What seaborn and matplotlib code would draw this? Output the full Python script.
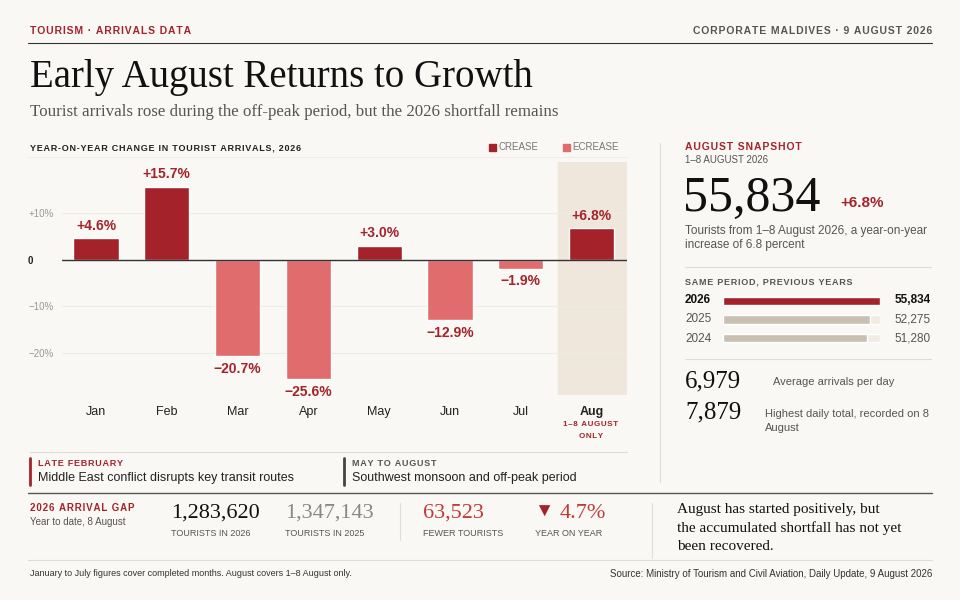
import matplotlib.pyplot as plt
import seaborn as sns
import pandas as pd
from matplotlib.patches import Rectangle

months = ["Jan", "Feb", "Mar", "Apr", "May", "Jun", "Jul", "Aug"]
yoy = [4.6, 15.7, -20.7, -25.6, 3.0, -12.9, -1.9, 6.8]
years = ["2026", "2025", "2024"]
arrivals = [55834, 52275, 51280]

RED = "#a4232b"
PINK = "#e06c6e"
BG = "#faf8f5"
BEIGE = "#efe7dc"
GREY = "#555555"
SERIF = "Liberation Serif"
SANS = "Liberation Sans"

sns.set_theme(style="white")
plt.rcParams["font.family"] = [SANS, "DejaVu Sans"]

fig = plt.figure(figsize=(9.6, 6), dpi=100, facecolor=BG)
W, H = 960, 600


def px(x, y):
    return x / W, 1 - y / H


def txt(x, y, s, **kw):
    kw.setdefault("va", "center")
    fig.text(*px(x, y), s, **kw)


def caps(x, y, s, **kw):
    # spaced small caps, as in the reference headers
    txt(x, y, "\u200a".join(s), **kw)


def hline(x0, x1, y, color="#dddddd", lw=0.8):
    fig.add_artist(plt.Line2D([x0 / W, x1 / W], [1 - y / H] * 2, color=color, lw=lw))


def vline(x, y0, y1, color="#dddddd", lw=0.8):
    fig.add_artist(plt.Line2D([x / W] * 2, [1 - y0 / H, 1 - y1 / H], color=color, lw=lw))


# header
caps(30, 31, "TOURISM · ARRIVALS DATA", color=RED, fontsize=7.5, fontweight="bold")
caps(932, 31, "CORPORATE MALDIVES · 9 AUGUST 2026", color=GREY, fontsize=7.5, fontweight="bold", ha="right")
hline(28, 932, 43, color="#333333", lw=0.8)
txt(30, 77, "Early August Returns to Growth", family=SERIF, fontsize=28, color="#111111")
txt(30, 112, "Tourist arrivals rose during the off-peak period, but the 2026 shortfall remains",
    family=SERIF, fontsize=12.2, color=GREY)

# main chart
caps(30, 148, "YEAR-ON-YEAR CHANGE IN TOURIST ARRIVALS, 2026", fontsize=6.5, fontweight="bold", color="#222222")
fig.add_artist(Rectangle(px(489, 151), 7 / W, 7 / H, color=RED, transform=fig.transFigure))
txt(498, 147, "CREASE", fontsize=7, color="#777777")
fig.add_artist(Rectangle(px(563, 151), 7 / W, 7 / H, color=PINK, transform=fig.transFigure))
txt(572, 147, "ECREASE", fontsize=7, color="#777777")
hline(28, 627, 157, color="#eeeeee")

ax = fig.add_axes([62 / W, 1 - 395 / H, (627 - 62) / W, (395 - 162) / H])
ax.set_facecolor(BG)
df = pd.DataFrame({"month": months, "yoy": yoy,
                   "sign": ["up" if v >= 0 else "down" for v in yoy]})
ax.axvspan(6.52, 7.5, color=BEIGE, zorder=0)
for g in [10, -10, -20]:
    ax.axhline(g, color="#eeeae4", lw=0.8, zorder=0.5)
sns.barplot(data=df, x="month", y="yoy", hue="sign", palette={"up": RED, "down": PINK},
            width=0.64, dodge=False, legend=False, saturation=1, ax=ax, zorder=2)
ax.axhline(0, color="#333333", lw=1, zorder=3)
for i, v in enumerate(yoy):
    lab = f"+{v:.1f}%" if v >= 0 else f"\u2212{abs(v):.1f}%"
    ax.text(i, v + (1.2 if v >= 0 else -1.2), lab, ha="center", va="bottom" if v >= 0 else "top",
            color=RED, fontsize=10, fontweight="bold")
ax.set_xlim(-0.48, 7.5)
ax.set_ylim(-29, 21)
ax.set_yticks([10, 0, -10, -20])
ax.set_yticklabels(["+10%", "0", "\u221210%", "\u221220%"])
for t in ax.get_yticklabels():
    t.set_color("#999999")
    t.set_fontsize(7)
    t.set_horizontalalignment("left")
    t.set_x(-0.06)
ax.get_yticklabels()[1].set_color("#222222")
ax.get_yticklabels()[1].set_fontweight("bold")
ax.tick_params(axis="y", length=0, pad=0)
ax.tick_params(axis="x", length=0, pad=8)
ax.set_xticks(range(8))
ax.set_xticklabels(months, fontsize=9, color="#222222")
ax.get_xticklabels()[7].set_fontweight("bold")
ax.set_xlabel("")
ax.set_ylabel("")
sns.despine(ax=ax, left=True, bottom=True)
caps(591, 425, "1–8 AUGUST", fontsize=5.8, color=RED, fontweight="bold", ha="center")
caps(591, 436, "ONLY", fontsize=5.8, color=RED, fontweight="bold", ha="center")

# notes
hline(30, 627, 452, color="#dddddd")
vline(30, 458, 485, color=RED, lw=2)
caps(38, 464, "LATE FEBRUARY", fontsize=6.5, color=RED, fontweight="bold")
txt(38, 478, "Middle East conflict disrupts key transit routes", fontsize=9, color="#222222")
vline(344, 458, 485, color="#444444", lw=2)
caps(352, 464, "MAY TO AUGUST", fontsize=6.5, color=GREY, fontweight="bold")
txt(352, 478, "Southwest monsoon and off-peak period", fontsize=9, color="#222222")

# right panel
vline(660, 143, 482)
caps(685, 147, "AUGUST SNAPSHOT", fontsize=7.5, color=RED, fontweight="bold")
txt(685, 160, "1–8 AUGUST 2026", fontsize=7, color=GREY)
txt(683, 199, "55,834", family=SERIF, fontsize=36, color="#111111")
txt(840, 203, "+6.8%", fontsize=11, color=RED, fontweight="bold")
txt(685, 231, "Tourists from 1–8 August 2026, a year-on-year", fontsize=8.5, color=GREY)
txt(685, 245, "increase of 6.8 percent", fontsize=8.5, color=GREY)
hline(685, 931, 267)
caps(685, 282, "SAME PERIOD, PREVIOUS YEARS", fontsize=6.5, color=GREY, fontweight="bold")

bx = fig.add_axes([723 / W, 1 - 347 / H, (880 - 723) / W, (347 - 292) / H])
bx.set_facecolor(BG)
bx.barh(range(3), [arrivals[0]] * 3, height=0.45, color="#f0ebe3", zorder=0)
sns.barplot(x=arrivals, y=years, hue=years, palette=[RED, "#c9c0b1", "#c9c0b1"],
            width=0.45, legend=False, saturation=1, ax=bx, orient="h", zorder=2)
bx.set_xlim(0, arrivals[0])
bx.axis("off")
for i, (yr, v) in enumerate(zip(years, arrivals)):
    y = 300 + i * 19.5
    w = "bold" if i == 0 else "normal"
    c = "#111111" if i == 0 else GREY
    txt(685, y, yr, fontsize=8.5, fontweight=w, color=c)
    txt(931, y, f"{v:,}", fontsize=8.5, fontweight=w, color=c, ha="right")
hline(685, 931, 359)
txt(685, 381, "6,979", family=SERIF, fontsize=18, color="#111111")
txt(773, 382, "Average arrivals per day", fontsize=8, color=GREY)
txt(685, 412, "7,879", family=SERIF, fontsize=18, color="#111111")
txt(765, 414, "Highest daily total, recorded on 8", fontsize=8, color=GREY)
txt(765, 428, "August", fontsize=8, color=GREY)

# bottom band
hline(28, 932, 493, color="#555555", lw=1)
caps(30, 508, "2026 ARRIVAL GAP", fontsize=7, color=RED, fontweight="bold")
txt(30, 522, "Year to date, 8 August", fontsize=7, color=GREY)
txt(171, 513, "1,283,620", family=SERIF, fontsize=16, color="#111111")
txt(171, 534, "TOURISTS IN 2026", fontsize=6.5, color=GREY)
txt(285, 513, "1,347,143", family=SERIF, fontsize=16, color="#888888")
txt(285, 534, "TOURISTS IN 2025", fontsize=6.5, color=GREY)
vline(400, 503, 540)
txt(423, 513, "63,523", family=SERIF, fontsize=16, color="#c0393b")
txt(423, 534, "FEWER TOURISTS", fontsize=6.5, color=GREY)
txt(534, 512, "\u25BC", fontsize=14, color=RED)
txt(560, 513, "4.7%", family=SERIF, fontsize=16, color="#c0393b")
txt(535, 534, "YEAR ON YEAR", fontsize=6.5, color=GREY)
vline(652, 503, 558)
txt(677, 510, "August has started positively, but", family=SERIF, fontsize=11, color="#111111")
txt(677, 528, "the accumulated shortfall has not yet", family=SERIF, fontsize=11, color="#111111")
txt(677, 546, "been recovered.", family=SERIF, fontsize=11, color="#111111")
hline(28, 932, 560)
txt(30, 574, "January to July figures cover completed months. August covers 1–8 August only.",
    fontsize=6.5, color="#333333")
txt(932, 574, "Source: Ministry of Tourism and Civil Aviation, Daily Update, 9 August 2026",
    fontsize=7, color="#333333", ha="right")

fig.savefig("out.png", dpi=100, facecolor=BG)
